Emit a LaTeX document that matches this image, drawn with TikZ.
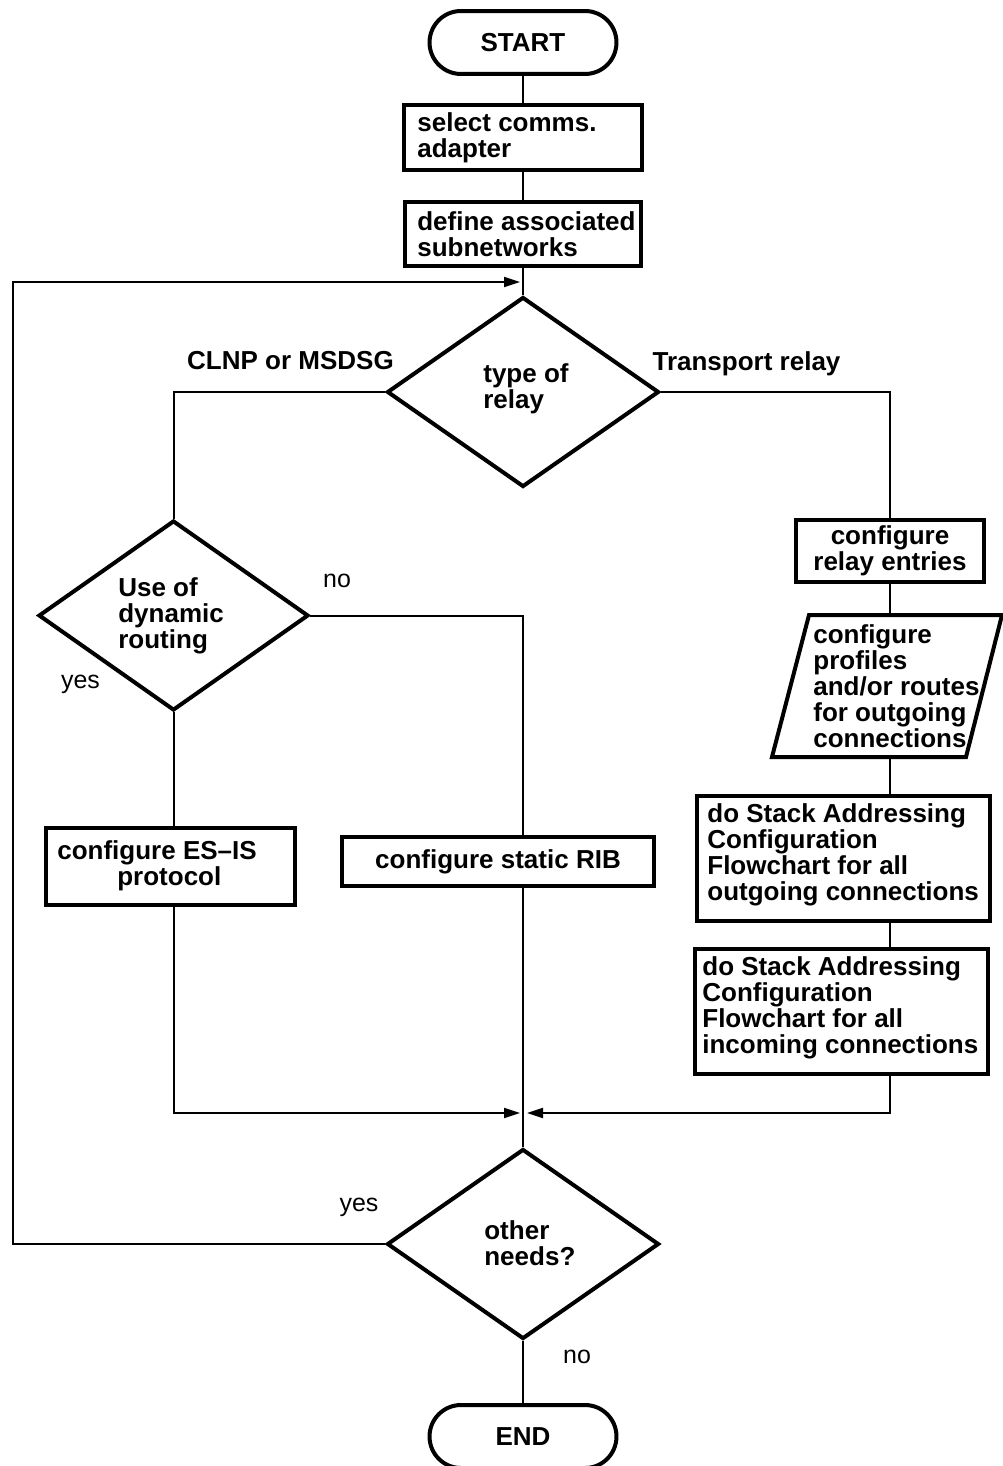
\documentclass[tikz,border=0pt]{standalone}
\usepackage{fontspec}
\setmainfont{Liberation Sans}
\usetikzlibrary{shapes.geometric,shapes.misc,arrows.meta}
\begin{document}
\begin{tikzpicture}[x=0.02cm,y=-0.02cm,
  txt/.style={font=\fontsize{14.8pt}{14.8pt}\selectfont\bfseries},
  plain/.style={font=\fontsize{14.2pt}{15pt}\selectfont},
  frame/.style={draw, line width=0.08cm, inner sep=0pt, txt},
  box/.style={frame, rectangle},
  decision/.style={frame, diamond, minimum width=5.44cm, minimum height=3.8cm},
  terminal/.style={frame, rounded rectangle, minimum width=3.74cm, minimum height=1.26cm},
  caption/.style={txt, align=left, anchor=west, inner sep=0pt},
  branch/.style={plain, anchor=base, inner sep=0pt},
  boldbranch/.style={txt, anchor=base, inner sep=0pt},
  flow/.style={line width=0.04cm},
  into/.style={flow, -{Triangle[length=0.32cm,width=0.2cm]}}]
\useasboundingbox (0,0) rectangle (1003,1466);

% main column
\node[terminal] (start) at (523,42.5) {START};
\node[box, minimum width=4.76cm, minimum height=1.30cm] (sel) at (523,137.5) {};
\node[caption] (sel-t) at (417,137.5) {select comms.\\adapter};
\node[box, minimum width=4.72cm, minimum height=1.28cm] (def) at (523,234) {};
\node[caption] (def-t) at (417,234) {define associated\\subnetworks};
\node[decision] (d1) at (523,392) {};
\node[caption] (d1-t) at (483,389) {type of\\relay};

% network-layer branch
\node[decision, minimum width=5.4cm] (d2) at (173.5,615.5) {};
\node[caption] (d2-t) at (118,616) {Use of\\dynamic\\routing};
\node[box, minimum width=4.98cm, minimum height=1.54cm] (esis) at (170.5,866.5) {};
\node[caption] (esis-t) at (57,866) {configure ES--IS\\\hspace*{1.2cm}protocol};
\node[box, minimum width=6.24cm, minimum height=0.98cm] (rib) at (498,861.5) {configure static RIB};

% transport relay branch
\node[box, align=center, minimum width=3.78cm, minimum height=1.26cm] (relay) at (890,551) {configure\\relay entries};
\draw[line width=0.08cm] (809,615) -- (1002,615) -- (966,757) -- (772,757) -- cycle;
\node[caption] (prof) at (813,686) {configure\\profiles\\and/or routes\\for outgoing\\connections};
\coordinate (prof-top) at (890,615);
\coordinate (prof-bot) at (890,757);
\node[box, minimum width=5.86cm, minimum height=2.5cm] (out) at (843.5,858.5) {};
\node[caption] (out-t) at (707,855) {do Stack Addressing\\Configuration\\Flowchart for all\\outgoing connections};
\node[box, minimum width=5.86cm, minimum height=2.5cm] (inc) at (841.5,1011.5) {};
\node[caption] (inc-t) at (702,1008) {do Stack Addressing\\Configuration\\Flowchart for all\\incoming connections};

% final decision
\node[decision] (d3) at (523,1244) {};
\node[caption] (d3-t) at (484,1243) {other\\needs?};
\node[terminal] (end) at (523,1436.5) {END};

% branch labels
\node[boldbranch] (l-clnp) at (290.5,369) {CLNP or MSDSG};
\node[boldbranch] (l-tr) at (746.5,370) {Transport relay};
\node[branch] (l-no1) at (337,587) {no};
\node[branch] (l-yes1) at (80.5,688) {yes};
\node[branch] (l-yes2) at (359,1211) {yes};
\node[branch] (l-no2) at (577,1363) {no};

% junction points
\coordinate (loop-corner) at (13,282);
\coordinate (loop-tip) at (520,282);
\coordinate (merge-l) at (520,1113);
\coordinate (merge-r) at (527,1113);

% connectors
\draw[flow] (start.south) -- (sel.north);
\draw[flow] (sel.south) -- (def.north);
\draw[flow] (def.south) -- (d1.north);
\draw[flow] (d1.west) -| (d2.north);
\draw[flow] (d1.east) -| (relay.north);
\draw[flow] (relay.south) -- (prof-top);
\draw[flow] (prof-bot) -- (relay.south |- out.north);
\draw[flow] (relay.south |- out.south) -- (relay.south |- inc.north);
\draw[into] (relay.south |- inc.south) |- (merge-r);
\draw[flow] (d2.south) -- (d2.south |- esis.north);
\draw[into] (d2.south |- esis.south) |- (merge-l);
\draw[flow] (d2.east) -| (rib.north -| d3.north);
\draw[flow] (rib.south -| d3.north) -- (d3.north);
\draw[into] (d3.west) -| (loop-corner) -- (loop-tip);
\draw[flow] (d3.south) -- (end.north);
\end{tikzpicture}
\end{document}
